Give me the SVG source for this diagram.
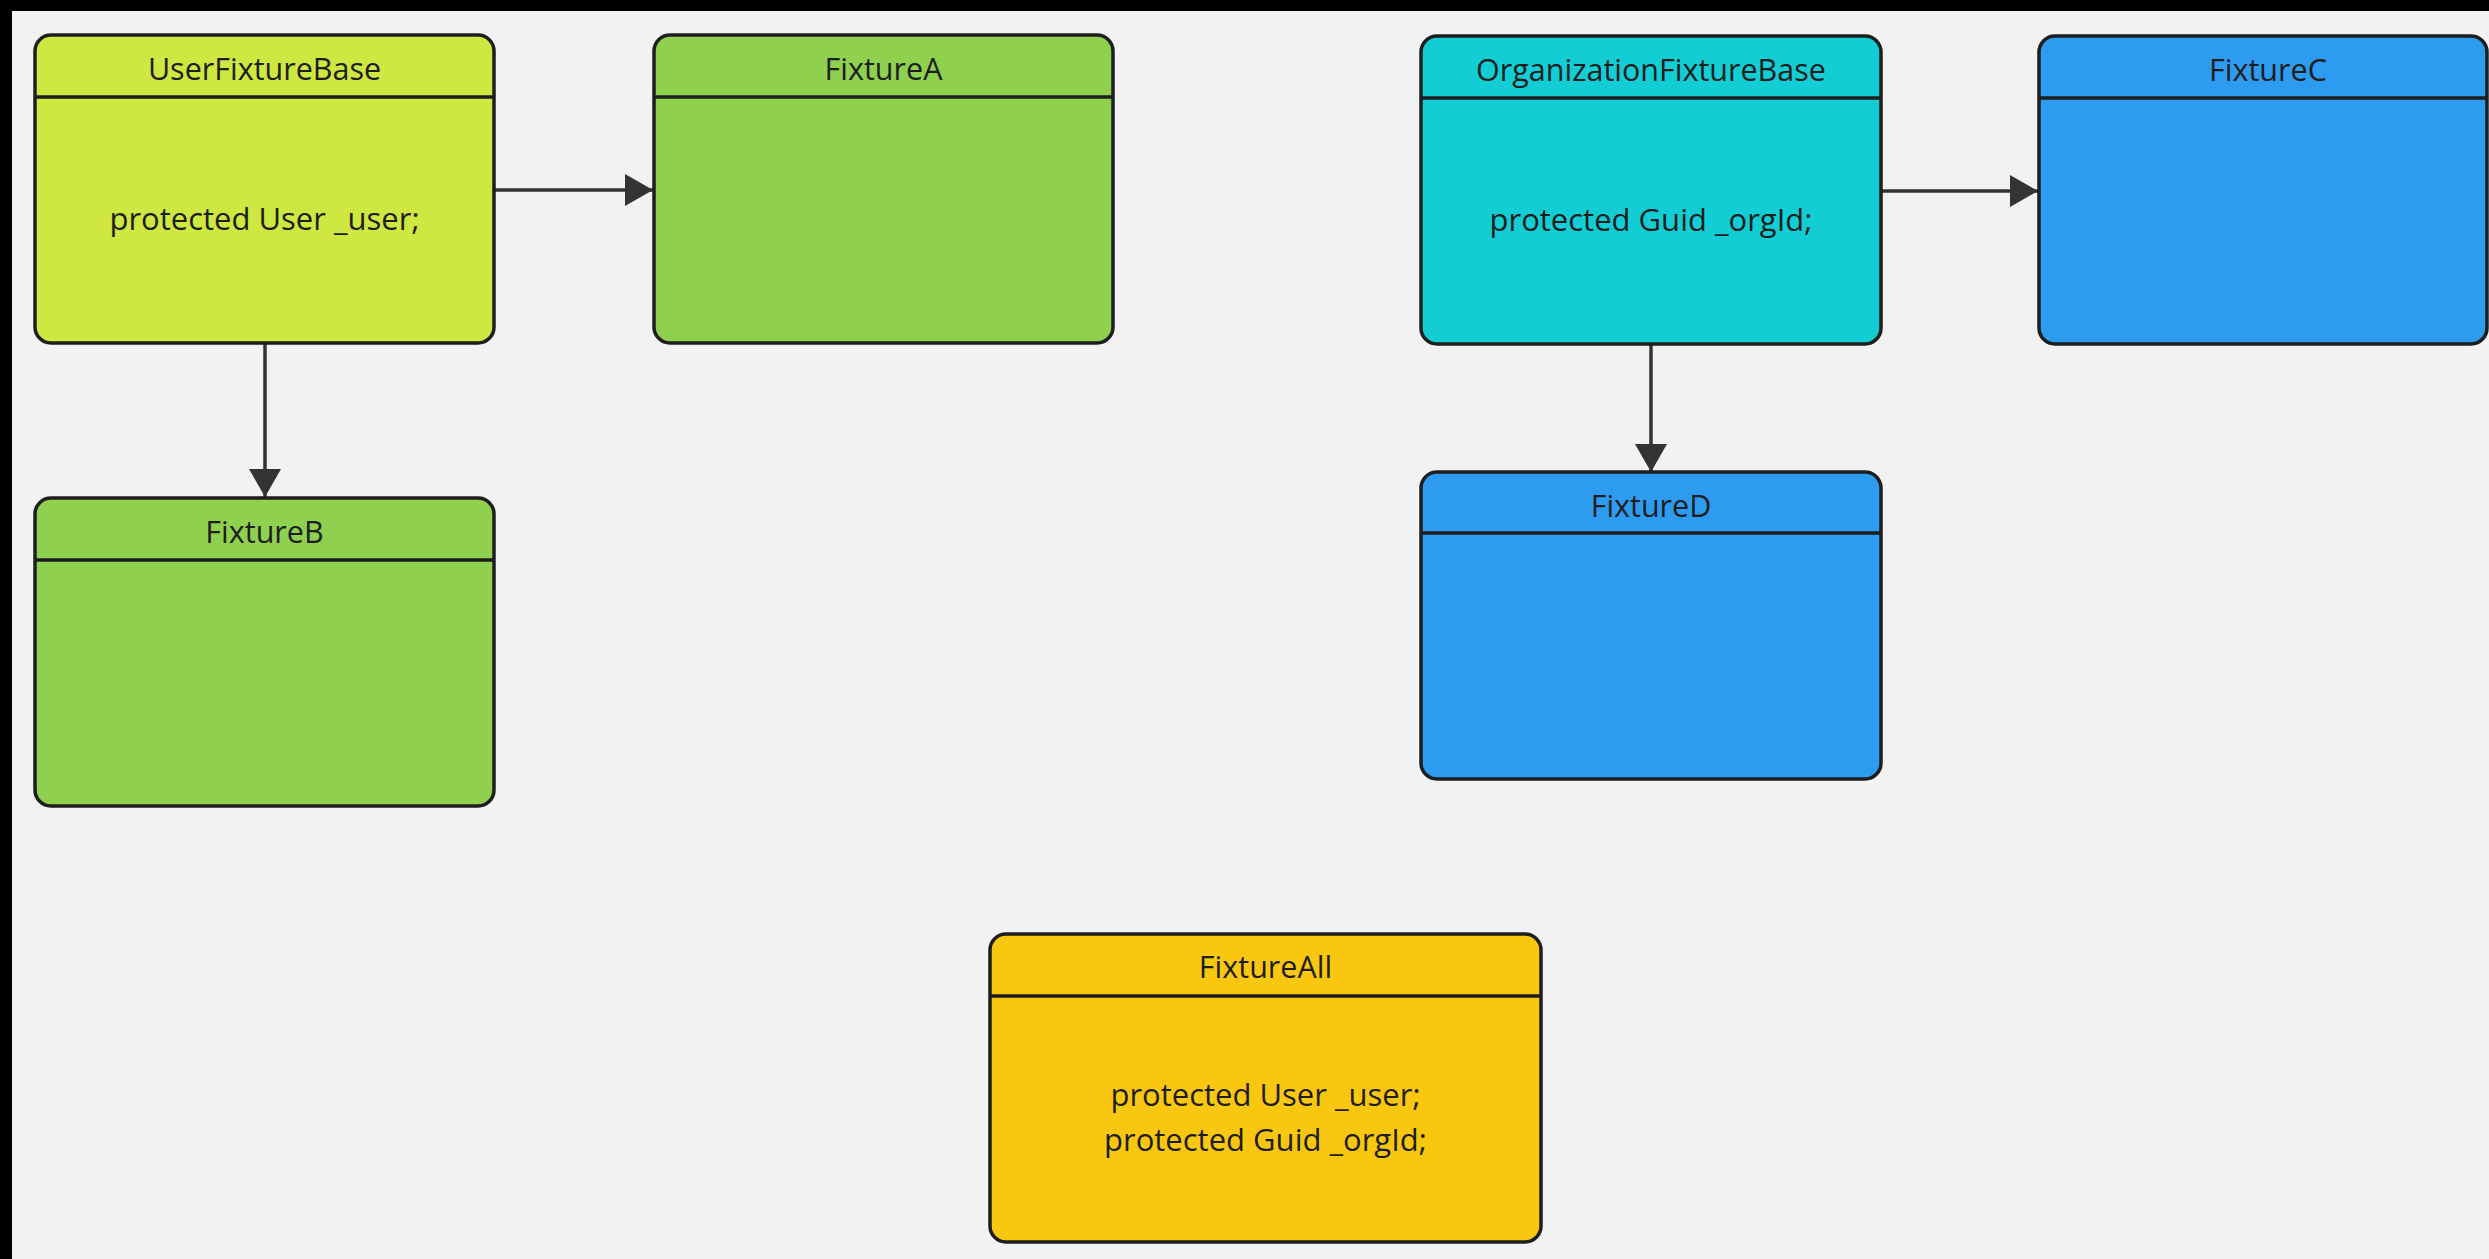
<svg xmlns="http://www.w3.org/2000/svg" width="2489" height="1259" viewBox="0 0 2489 1259">
  <defs>
    <style>
      .box { stroke: #1e1e1e; stroke-width: 3.5; }
      .sep { stroke: #1e1e1e; stroke-width: 3.5; }
      .title, .body { font-family: "Open Sans", "Noto Sans", "Liberation Sans", sans-serif; fill: #1e1e1e; text-anchor: middle; }
      .title { font-size: 30.5px; }
      .body { font-size: 31px; }
      .lime { fill: #cee741; }
      .green { fill: #8fd14f; }
      .cyan { fill: #12cdd4; }
      .blue { fill: #2d9bf0; }
      .yellow { fill: #fac710; }
      .edge { stroke: #333333; stroke-width: 3.5; fill: none; marker-end: url(#arrow); }
    </style>
    <marker id="arrow" viewBox="0 0 28 32" refX="28" refY="16" markerWidth="28" markerHeight="32" markerUnits="userSpaceOnUse" orient="auto">
      <path d="M0,0 L28,16 L0,32 Z" fill="#333333"/>
    </marker>
  </defs>

  <!-- frame and canvas -->
  <rect x="0" y="0" width="2489" height="1259" fill="#000000"/>
  <rect x="12" y="11" width="2477" height="1248" fill="#f2f2f2"/>

  <!-- connectors -->
  <g id="connectors">
    <path class="edge" d="M495,190 H653"/>
    <path class="edge" d="M265,343 V497"/>
    <path class="edge" d="M1881,191 H2038"/>
    <path class="edge" d="M1651,344 V472"/>
  </g>

  <g id="UserFixtureBase">
    <rect class="box lime" x="35" y="35" width="459" height="308" rx="16"/>
    <line class="sep" x1="35" y1="97" x2="494" y2="97"/>
    <text class="title" x="264.5" y="80">UserFixtureBase</text>
    <text class="body" x="264.5" y="230">protected User _user;</text>
  </g>

  <g id="FixtureA">
    <rect class="box green" x="654" y="35" width="459" height="308" rx="16"/>
    <line class="sep" x1="654" y1="97" x2="1113" y2="97"/>
    <text class="title" x="883.5" y="80">FixtureA</text>
  </g>

  <g id="FixtureB">
    <rect class="box green" x="35" y="498" width="459" height="308" rx="16"/>
    <line class="sep" x1="35" y1="560" x2="494" y2="560"/>
    <text class="title" x="264.5" y="543">FixtureB</text>
  </g>

  <g id="OrganizationFixtureBase">
    <rect class="box cyan" x="1421" y="36" width="460" height="308" rx="16"/>
    <line class="sep" x1="1421" y1="98" x2="1881" y2="98"/>
    <text class="title" x="1651" y="81">OrganizationFixtureBase</text>
    <text class="body" x="1651" y="231">protected Guid _orgId;</text>
  </g>

  <g id="FixtureC">
    <rect class="box blue" x="2039" y="36" width="448" height="308" rx="16"/>
    <line class="sep" x1="2039" y1="98" x2="2487" y2="98"/>
    <text class="title" x="2268" y="81">FixtureC</text>
  </g>

  <g id="FixtureD">
    <rect class="box blue" x="1421" y="472" width="460" height="307" rx="16"/>
    <line class="sep" x1="1421" y1="533" x2="1881" y2="533"/>
    <text class="title" x="1651" y="517">FixtureD</text>
  </g>

  <g id="FixtureAll">
    <rect class="box yellow" x="990" y="934" width="551" height="308" rx="16"/>
    <line class="sep" x1="990" y1="996" x2="1541" y2="996"/>
    <text class="title" x="1265.5" y="978">FixtureAll</text>
    <text class="body" x="1265.5" y="1106">protected User _user;</text>
    <text class="body" x="1265.5" y="1151">protected Guid _orgId;</text>
  </g>
</svg>
